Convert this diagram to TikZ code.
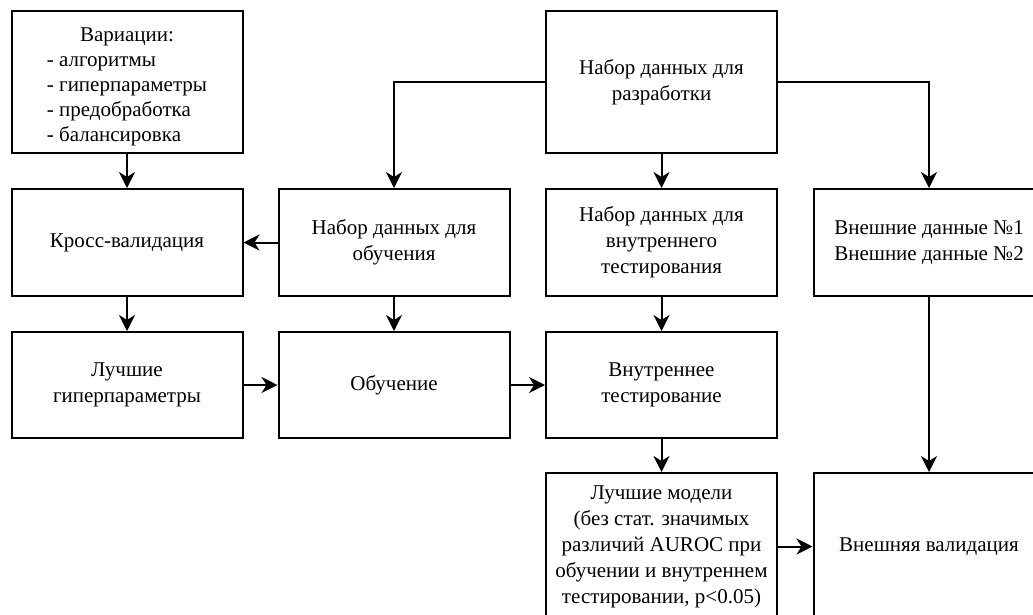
\documentclass[tikz,border=0pt]{standalone}
\usepackage{fontspec}
\setmainfont{Liberation Serif}
\usetikzlibrary{arrows.meta}
\begin{document}
\begin{tikzpicture}[x=1pt,y=-1pt,
  box/.style={draw,line width=2pt,minimum width=231pt,inner sep=0pt,
    align=center,font=\fontsize{21}{26}\selectfont},
  row1/.style={minimum height=142pt},
  row2/.style={minimum height=107pt},
  row3/.style={minimum height=106pt},
  row4/.style={minimum height=147pt},
  link/.style={line width=2pt,-{Stealth[length=16pt,width=16pt,inset=5pt]}}]
\useasboundingbox (0,0) rectangle (1033,614);
\fill[white] (0,0) rectangle (1033,614);
\clip (0,0) rectangle (1033,614);

% top row
\node[box,row1] (var) at (127,82) {%
  \raisebox{-4pt}[\height][\depth]{\begin{tabular}{@{}l@{}}
  \multicolumn{1}{@{}c@{}}{Вариации:}\\[-1pt]
  - алгоритмы\\[-1pt]
  - гиперпараметры\\[-1pt]
  - предобработка\\[-1pt]
  - балансировка
  \end{tabular}}};
\node[box,row1] (dev) at (661.5,82) {Набор данных для\\разработки};

% second row
\node[box,row2] (cv) at (127,242.5) {Кросс-валидация};
\node[box,row2] (train) at (394,242.5) {Набор данных для\\обучения};
\node[box,row2] (itest) at (661.5,242.5) {Набор данных для\\внутреннего\\тестирования};
\node[box,row2] (ext) at (929,242.5) {Внешние данные №1\\Внешние данные №2};

% third row
\node[box,row3] (best) at (127,385) {Лучшие\\гиперпараметры};
\node[box,row3] (fit) at (394,385) {Обучение};
\node[box,row3] (intt) at (661.5,385) {Внутреннее\\тестирование};

% bottom row
\node[box,row4] (models) at (661.5,546.5) {Лучшие модели\\(без стат. значимых\\различий AUROC при\\обучении и внутреннем\\тестировании, p<0.05)};
\node[box,row4] (extval) at (929,546.5) {Внешняя валидация};

% connectors
\draw[link] (var.south) -- (cv.north);
\draw[link] (dev.west) -| (train.north);
\draw[link] (dev.east) -| (ext.north);
\draw[link] (dev.south) -- (itest.north);
\draw[link] (train.west) -- (cv.east);
\draw[link] (cv.south) -- (best.north);
\draw[link] (train.south) -- (fit.north);
\draw[link] (itest.south) -- (intt.north);
\draw[link] (best.east) -- (fit.west);
\draw[link] (fit.east) -- (intt.west);
\draw[link] (intt.south) -- (models.north);
\draw[link] (ext.south) -- (extval.north);
\draw[link] (models.east) -- (extval.west);
\end{tikzpicture}
\end{document}
